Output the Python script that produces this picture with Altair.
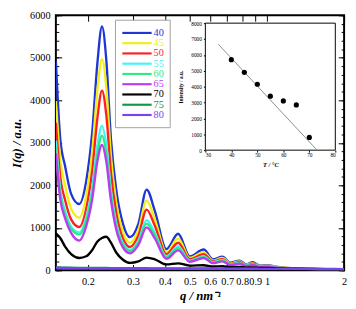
import altair as alt
import pandas as pd

# ---------------- data ----------------
Q = [0.150, 0.156, 0.163, 0.172, 0.185, 0.197, 0.208, 0.218, 0.227, 0.236,
     0.246, 0.258, 0.274, 0.292, 0.315, 0.339, 0.365, 0.405, 0.45, 0.50,
     0.566, 0.615, 0.67, 0.72, 0.78, 0.83, 0.88, 0.94, 1.0, 1.1,
     1.25, 1.45, 1.7, 2.0]

TEMPS = ["40", "45", "50", "55", "60", "65", "70", "75", "80"]
COLORS = ["#1f35d6", "#f0f018", "#ff1f1f", "#3ff5f5", "#2eea82",
          "#b83cf0", "#000000", "#12964a", "#7a44ec"]

I_40 = [4920, 3100, 2450, 1800, 1560, 2100, 3250, 4900, 5740, 4950,
        3100, 1900, 1100, 780, 1100, 1900, 1400, 500, 860, 330,
        490, 260, 320, 180, 230, 140, 190, 110, 120, 80,
        50, 35, 30, 30]
I_45 = [3980, 2600, 2000, 1450, 1240, 1750, 2800, 4250, 4970, 4300,
        2700, 1600, 900, 650, 950, 1640, 1200, 430, 750, 290,
        430, 230, 290, 165, 210, 130, 170, 100, 110, 75,
        48, 35, 30, 30]
I_50 = [3470, 2200, 1650, 1200, 1020, 1450, 2350, 3600, 4230, 3650,
        2300, 1350, 750, 550, 820, 1430, 1050, 380, 650, 260,
        380, 210, 260, 150, 190, 120, 155, 95, 100, 70,
        46, 35, 30, 30]
I_55 = [3050, 1900, 1400, 1030, 890, 1250, 1950, 2950, 3400, 2950,
        1900, 1120, 640, 480, 700, 1180, 880, 330, 560, 230,
        330, 190, 240, 140, 175, 110, 140, 90, 95, 65,
        44, 35, 30, 30]
I_60 = [2900, 1800, 1320, 980, 840, 1170, 1820, 2750, 3170, 2750,
        1780, 1050, 600, 450, 660, 1100, 820, 310, 520, 215,
        310, 180, 225, 135, 165, 105, 135, 85, 90, 60,
        42, 33, 30, 30]
I_65 = [2750, 1680, 1220, 880, 700, 1040, 1680, 2580, 2950, 2560,
        1650, 960, 540, 400, 600, 1010, 750, 270, 470, 200,
        290, 170, 210, 125, 155, 100, 125, 80, 85, 58,
        40, 32, 30, 30]
I_70 = [870, 760, 560, 380, 290, 330, 480, 680, 760, 790,
        650, 420, 250, 175, 210, 300, 260, 140, 165, 110,
        120, 90, 95, 75, 80, 65, 70, 55, 55, 45,
        40, 35, 30, 30]
I_75 = [70, 66, 63, 60, 58, 57, 56, 55, 55, 54,
        53, 52, 51, 50, 49, 48, 47, 46, 45, 44,
        43, 42, 41, 40, 39, 38, 37, 36, 35, 34,
        33, 32, 31, 30]
I_80 = [60, 57, 55, 53, 52, 51, 50, 49, 48, 48,
        47, 46, 45, 44, 43, 42, 41, 40, 39, 38,
        37, 36, 35, 34, 33, 32, 31, 30, 30, 29,
        28, 27, 26, 25]

SERIES = [I_40, I_45, I_50, I_55, I_60, I_65, I_70, I_75, I_80]

INSET_T = [40, 45, 50, 55, 60, 65, 70]
INSET_I = [5700, 4900, 4150, 3400, 3100, 2850, 800]
FIT_T = [35, 73]
FIT_I = [6670, 0]

X_TICKS = [0.2, 0.3, 0.4, 0.5, 0.6, 0.7, 0.8, 0.9, 1, 2]
Y_TICKS = [0, 1000, 2000, 3000, 4000, 5000, 6000]
Y_MINOR = list(range(0, 6001, 200))
INSET_X_TICKS = [30, 40, 50, 60, 70, 80]
INSET_Y_TICKS = [0, 1000, 2000, 3000, 4000, 5000, 6000, 7000, 8000]

# ---------------- tables ----------------
rows = []
for t, vals in zip(TEMPS, SERIES):
    for q, v in zip(Q, vals):
        rows.append({"T": t, "q": q, "I": v})
df = pd.DataFrame(rows)

SERIF = "Liberation Serif"
W, H = 295, 261

xs = alt.Scale(type="log", domain=[0.15, 2], nice=False)
ys = alt.Scale(domain=[0, 6000], nice=False, zero=False)
cscale = alt.Scale(domain=TEMPS, range=COLORS)

curves = alt.Chart(df).mark_line(strokeWidth=2.4, interpolate="monotone", clip=True).encode(
    x=alt.X("q:Q", scale=xs, axis=alt.Axis(
        values=X_TICKS, ticks=False, domain=False, grid=False, format="~g",
        labelFont=SERIF, labelFontSize=10.5, labelColor="black", labelPadding=7,
        labelOverlap=False, labelFlush=False, labelBound=False,
        title="q / nm⁻¹", titleFont=SERIF, titleFontSize=13, titleFontStyle="italic",
        titleFontWeight="bold", titleColor="black", titlePadding=2)),
    y=alt.Y("I:Q", scale=ys, axis=alt.Axis(
        values=Y_TICKS, ticks=False, domain=False, grid=False, format="d",
        labelFont=SERIF, labelFontSize=10.5, labelColor="black", labelPadding=6,
        title="I(q) / a.u.", titleFont=SERIF, titleFontSize=13, titleFontStyle="italic",
        titleFontWeight="bold", titleColor="black", titlePadding=6)),
    color=alt.Color("T:N", scale=cscale, legend=None),
)

tick_src = pd.DataFrame({"q": [0.15, 2], "I": [0, 6000]})


def tick_axis(orient, offset, values, size):
    return alt.Axis(orient=orient, offset=offset, values=values, labels=False,
                    domain=False, grid=False, ticks=True, tickSize=size,
                    tickColor="black", tickWidth=1, title="")


def tick_layer(x_axis, y_axis):
    return alt.Chart(tick_src).mark_point(opacity=0).encode(
        x=alt.X("q:Q", scale=xs, axis=x_axis),
        y=alt.Y("I:Q", scale=ys, axis=y_axis),
    )


tA = tick_layer(tick_axis("top", -H, X_TICKS, 6), tick_axis("right", -W, Y_TICKS, 6))
tB = tick_layer(tick_axis("bottom", -H, X_TICKS, 6), tick_axis("left", -W, Y_TICKS, 6))
tC = tick_layer(None, tick_axis("right", -W, Y_MINOR, 3))
tD = tick_layer(None, tick_axis("left", -W, Y_MINOR, 3))

curves_group = alt.layer(curves, tA, tB, tC, tD).resolve_axis(x="independent", y="independent")

# ---------------- legend ----------------
leg_df = pd.DataFrame({"T": TEMPS})
box = alt.Chart(pd.DataFrame({"k": [0]})).mark_rect(
    fill="white", stroke="#a0a0a0", strokeWidth=1).encode(
    x=alt.value(61), x2=alt.value(117), y=alt.value(5), y2=alt.value(115))
leg_y = alt.Y("T:N", scale=alt.Scale(type="point", domain=TEMPS, range=[18, 102], padding=0), axis=None)
leg_lines = alt.Chart(leg_df).mark_rule(strokeWidth=2.2).encode(
    x=alt.value(68), x2=alt.value(98), y=leg_y,
    color=alt.Color("T:N", scale=cscale, legend=None))
leg_text = alt.Chart(leg_df).mark_text(align="left", baseline="middle", font=SERIF, fontSize=10.5).encode(
    x=alt.value(100), y=leg_y, text="T:N",
    color=alt.Color("T:N", scale=cscale, legend=None))
legend_group = alt.layer(box, leg_lines, leg_text)

# ---------------- inset ----------------
ixs = alt.Scale(domain=[30, 80], range=[153, 286], nice=False, zero=False)
iys = alt.Scale(domain=[0, 8000], range=[138, 8], nice=False, zero=False)
ix_axis = alt.Axis(orient="bottom", offset=138 - H, values=INSET_X_TICKS, domain=False, grid=False,
                   labelFont=SERIF, labelFontSize=5.5, labelColor="black", labelPadding=1,
                   tickSize=2, tickColor="black",
                   title="T / °C", titleFont=SERIF, titleFontSize=6.5, titleFontWeight="bold",
                   titleFontStyle="italic", titleColor="black", titlePadding=3)
iy_axis = alt.Axis(orient="left", offset=-153, values=INSET_Y_TICKS, domain=False, grid=False,
                   format="d",
                   labelFont=SERIF, labelFontSize=5.5, labelColor="black", labelPadding=2,
                   tickSize=2, tickColor="black",
                   title="Intensity / a.u.", titleFont=SERIF, titleFontSize=5.5,
                   titleFontWeight="bold", titleColor="black", titlePadding=7)

frame_df = pd.DataFrame({"x0": [30], "x1": [80], "y0": [0], "y1": [8000]})
frame = alt.Chart(frame_df).mark_rect(fill="white", stroke="black", strokeWidth=1).encode(
    x=alt.X("x0:Q", scale=ixs, axis=ix_axis), x2="x1",
    y=alt.Y("y0:Q", scale=iys, axis=iy_axis), y2="y1")
fit_df = pd.DataFrame({"T": FIT_T, "I": FIT_I})
fit = alt.Chart(fit_df).mark_line(color="#8c8c8c", strokeWidth=1).encode(
    x=alt.X("T:Q", scale=ixs, axis=ix_axis), y=alt.Y("I:Q", scale=iys, axis=iy_axis))
pts_df = pd.DataFrame({"T": INSET_T, "I": INSET_I})
pts = alt.Chart(pts_df).mark_circle(size=28, color="black", opacity=1).encode(
    x=alt.X("T:Q", scale=ixs, axis=ix_axis), y=alt.Y("I:Q", scale=iys, axis=iy_axis))
inset_group = alt.layer(frame, fit, pts)

chart = alt.layer(curves_group, legend_group, inset_group).resolve_scale(
    x="independent", y="independent"
).properties(
    width=W, height=H,
    padding={"left": 49, "top": 4, "right": 4, "bottom": 33},
    autosize=alt.AutoSizeParams(type="none"),
    background="white",
).configure_view(stroke="black", strokeWidth=2)

chart.save("out.html", embed_options={"renderer": "svg", "actions": False})
